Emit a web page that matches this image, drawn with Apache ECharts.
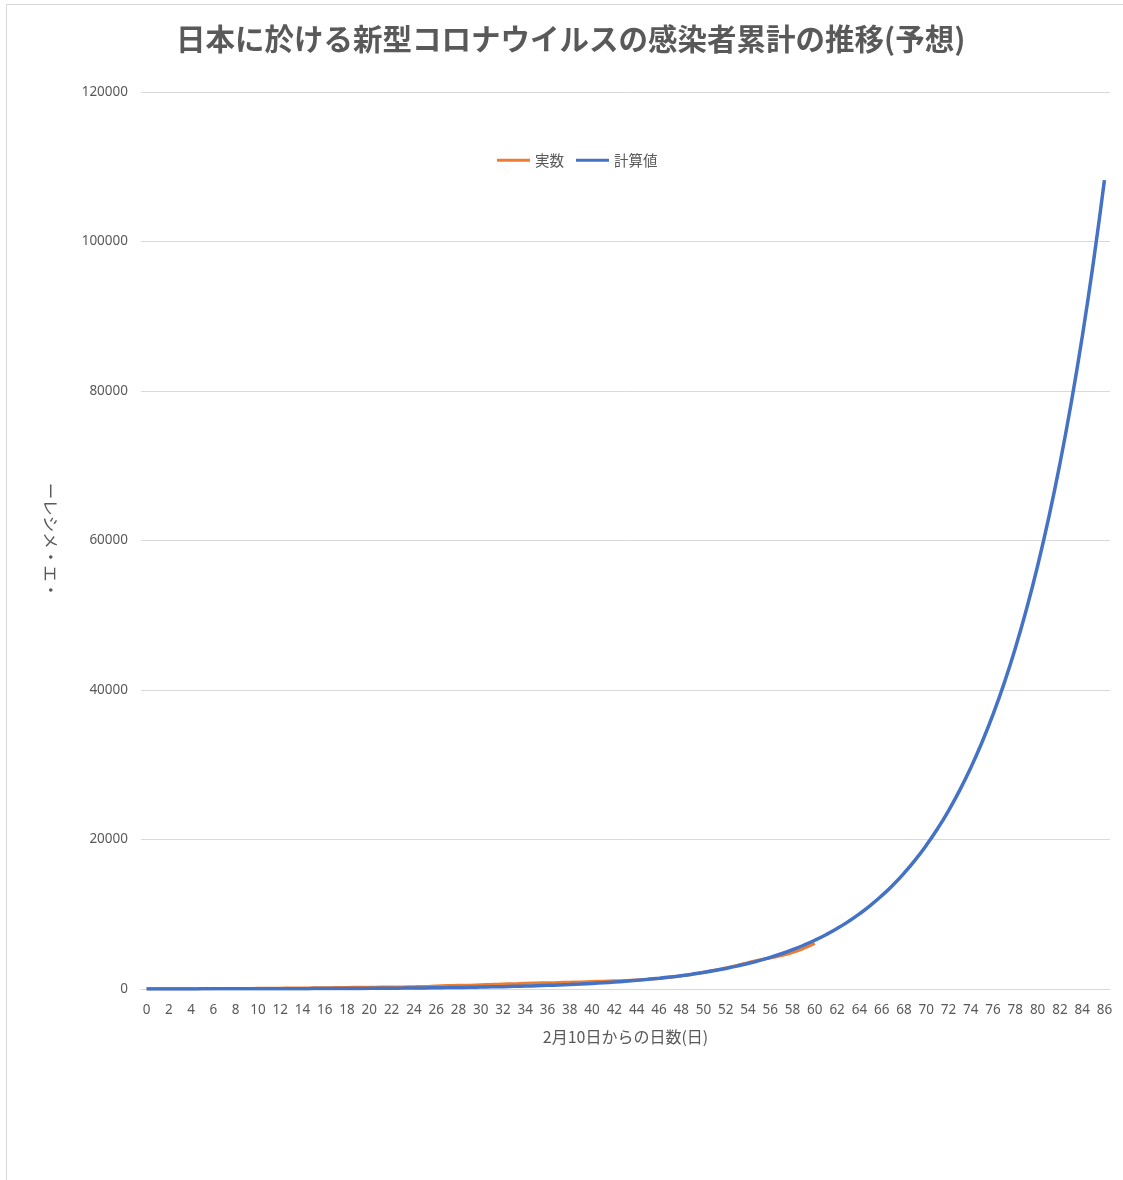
<!DOCTYPE html>
<html>
<head>
<meta charset="utf-8">
<script src="https://cdn.jsdelivr.net/npm/echarts@6/dist/echarts.min.js"></script>
<style>
  html, body { margin: 0; padding: 0; background: #ffffff; }
  #frame { position: absolute; left: 6px; top: 4px; width: 1300px; height: 1300px; border: 1px solid #d9d9d9; }
  #chart { position: absolute; left: 0; top: 0; width: 1123px; height: 1180px; }
</style>
</head>
<body>
<div id="frame"></div>
<div id="chart"></div>
<script>
// 2月10日からの日数
var days = [];
for (var i = 0; i <= 86; i++) days.push(String(i));

// 実数 (day 0..60)
var actual = [26, 26, 28, 29, 33, 41, 53, 59, 66, 73,
  84, 93, 105, 132, 144, 156, 164, 186, 210, 230,
  239, 254, 268, 284, 317, 348, 407, 454, 487, 514,
  568, 619, 675, 716, 780, 814, 829, 873, 914, 950,
  1007, 1046, 1089, 1128, 1193, 1291, 1420, 1560, 1760, 1980,
  2230, 2500, 2820, 3160, 3520, 3880, 4150, 4480, 4880, 5420,
  6100];

// 計算値 (day 0..86)
var calc = [10, 11, 12, 14, 15, 17, 19, 21, 24, 26,
  29, 33, 37, 41, 45, 51, 56, 63, 70, 78,
  87, 97, 108, 120, 134, 149, 166, 185, 206, 229,
  255, 285, 317, 353, 393, 438, 488, 544, 606, 675,
  752, 838, 933, 1040, 1158, 1290, 1437, 1601, 1784, 1987,
  2214, 2466, 2748, 3061, 3411, 3800, 4233, 4716, 5254, 5854,
  6522, 7266, 8095, 9018, 10047, 11193, 12470, 13893, 15478, 17244,
  19211, 21403, 23845, 26565, 29596, 32972, 36734, 40925, 45594, 50796,
  56591, 63047, 70240, 78253, 87181, 97127, 108208];

var yTicks = { min: 0, max: 120000, interval: 20000 };

var chart = echarts.init(document.getElementById('chart'));
chart.setOption({
  backgroundColor: 'transparent',
  animation: false,
  title: {
    text: '日本に於ける新型コロナウイルスの感染者累計の推移(予想)',
    left: 171,
    top: 19,
    textStyle: {
      fontFamily: 'Noto Sans CJK JP',
      fontSize: 29.5,
      fontWeight: 'bold',
      color: '#595959'
    }
  },
  legend: {
    top: 148,
    left: 492,
    itemWidth: 33,
    itemHeight: 3,
    itemGap: 12,
    icon: 'rect',
    textStyle: { fontFamily: 'Noto Sans CJK JP', fontSize: 14.5, color: '#595959' },
    data: ['実数', '計算値']
  },
  grid: { left: 141, right: 13, top: 92, bottom: 191 },
  xAxis: {
    type: 'category',
    data: days,
    boundaryGap: true,
    name: '2月10日からの日数(日)',
    nameLocation: 'middle',
    nameGap: 40,
    nameTextStyle: { fontFamily: 'Noto Sans CJK JP', fontSize: 16, color: '#595959' },
    axisLine: { lineStyle: { color: '#d9d9d9' } },
    axisTick: { show: false },
    axisLabel: { interval: 1, margin: 14, fontFamily: 'Noto Sans', fontSize: 13.5, color: '#595959' }
  },
  yAxis: {
    type: 'value',
    min: yTicks.min,
    max: yTicks.max,
    interval: yTicks.interval,
    name: 'ーレシメ・エ・',
    nameLocation: 'middle',
    nameRotate: -90,
    nameGap: 82,
    nameTextStyle: { fontFamily: 'Noto Sans CJK JP', fontSize: 16.5, color: '#595959' },
    axisLine: { show: false },
    axisTick: { show: false },
    axisLabel: {
      margin: 13, fontFamily: 'Noto Sans', fontSize: 13.5, color: '#595959',
      formatter: function (v) { return String(v); }
    },
    splitLine: { lineStyle: { color: '#d9d9d9' } }
  },
  series: [
    {
      name: '実数',
      type: 'line',
      data: actual,
      smooth: true,
      showSymbol: false,
      color: '#ED7D31',
      lineStyle: { width: 3, color: '#ED7D31' }
    },
    {
      name: '計算値',
      type: 'line',
      data: calc,
      smooth: true,
      showSymbol: false,
      color: '#4472C4',
      lineStyle: { width: 3.5, color: '#4472C4' }
    }
  ]
});
</script>
</body>
</html>
